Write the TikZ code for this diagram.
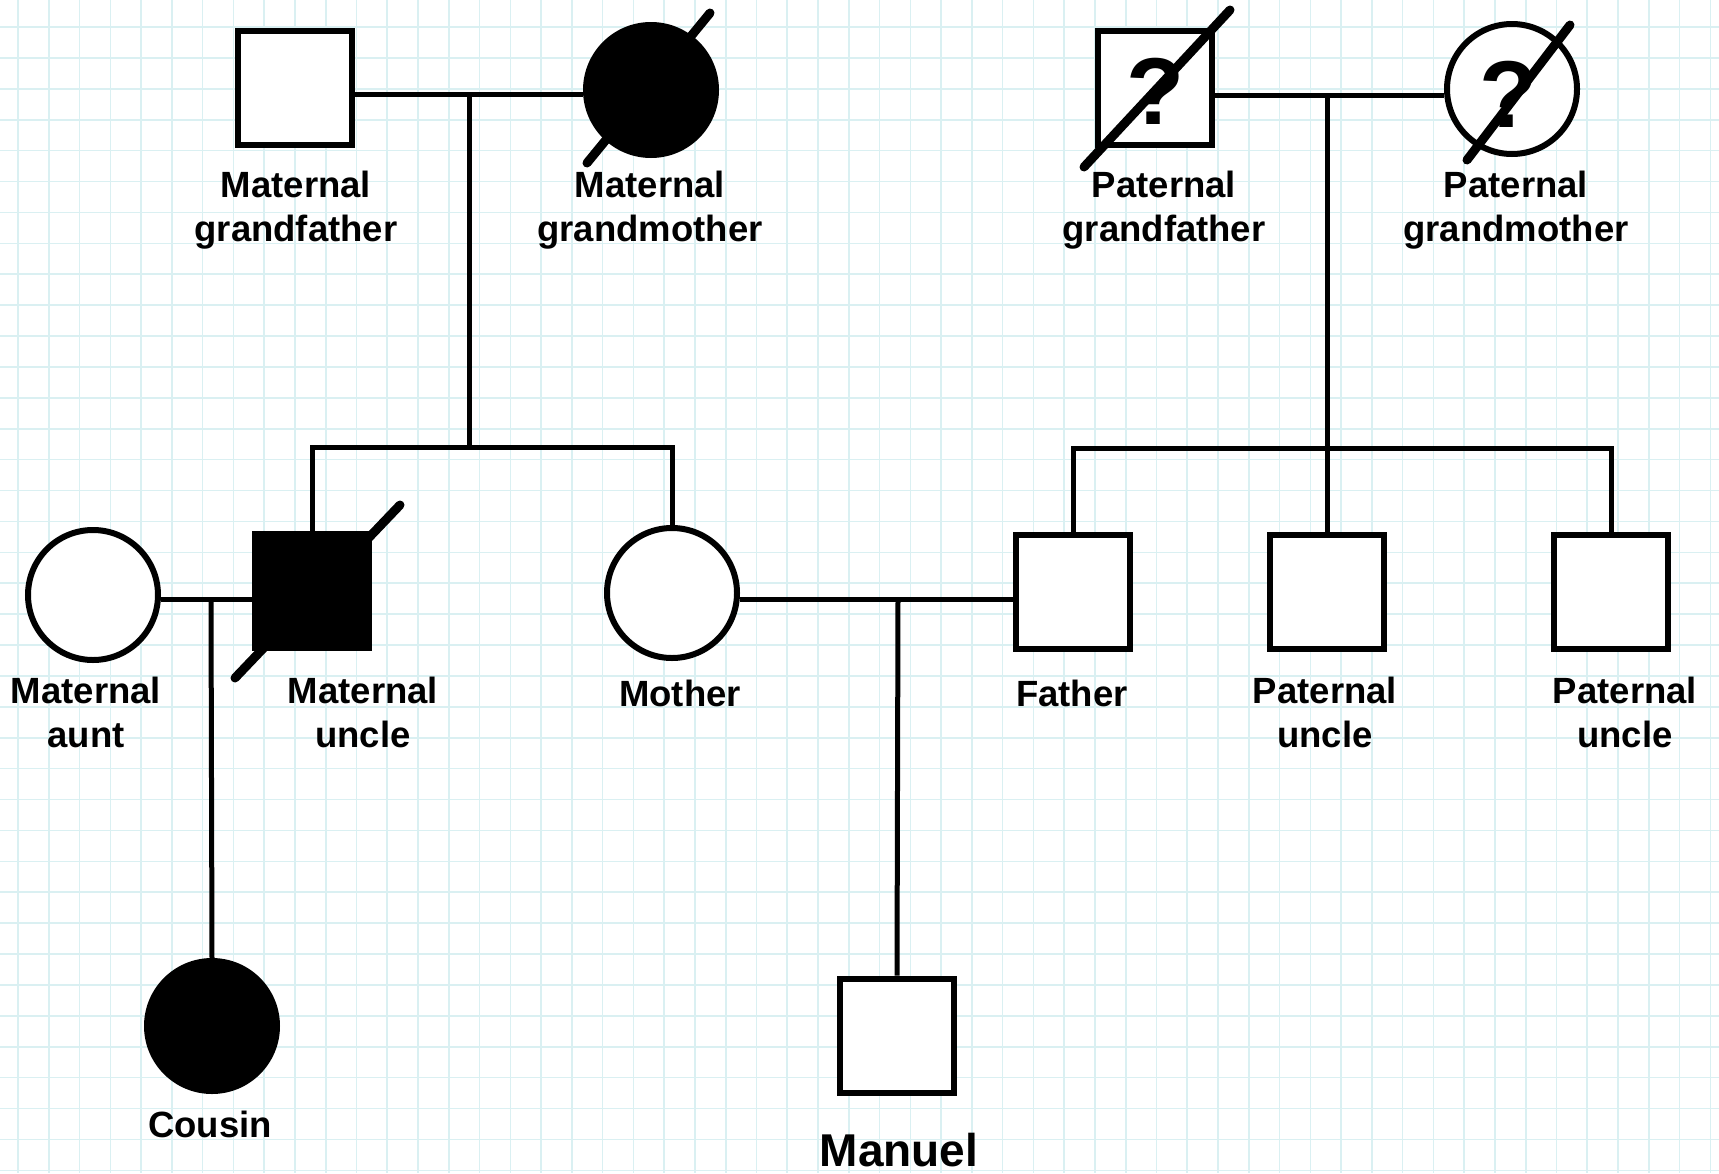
\documentclass[tikz,border=0pt]{standalone}
\usepackage{fontspec}
\setmainfont{Liberation Sans}
\definecolor{gridc}{RGB}{218,240,242}
\begin{document}
\begin{tikzpicture}[x=1pt,y=-1pt,
  male/.style={rectangle, draw, line width=6pt, minimum size=114pt, inner sep=0pt, fill=white},
  female/.style={circle, draw, line width=6pt, minimum size=130pt, inner sep=0pt, fill=white},
  affected/.style={fill=black},
  link/.style={line width=5pt},
  deadmark/.style={line width=9pt, line cap=round},
  lbl/.style={font=\fontsize{36.5}{44}\selectfont\bfseries, align=center, inner sep=0pt, anchor=base},
  qmark/.style={font=\fontsize{95}{95}\selectfont\bfseries, inner sep=0pt},
  gridline/.style={draw=gridc, line width=1.6pt}]
\useasboundingbox (0,0) rectangle (1719,1173);
\fill[white] (0,0) rectangle (1719,1173);
% background grid
\foreach \i in {0,...,55} {\draw[gridline] ({18+30.77*\i},0) -- ({18+30.77*\i},1173);}
\foreach \j in {0,...,37} {\draw[gridline] (0,{27+30.9*\j}) -- (1719,{27+30.9*\j});}

% junction coordinates
\coordinate (mm) at (469,94);
\coordinate (ms) at (469,447);
\coordinate (pm) at (1327,95);
\coordinate (ps) at (1327,448);
\coordinate (am) at (211,599);
\coordinate (fm) at (898,599);

% individuals
\node[male] (mgf) at (295,88) {};
\node[female, affected] (mgm) at (651,90) {};
\node[male] (pgf) at (1155,88) {};
\node[female] (pgm) at (1512,89) {};
\node[female] (aunt) at (93,595) {};
\node[male, affected] (muncle) at (312,591) {};
\node[female] (mother) at (672,593) {};
\node[male] (father) at (1073,592) {};
\node[male] (pu1) at (1327,591.5) {};
\node[male] (pu2) at (1611,591.5) {};
\node[female, affected] (cousin) at (212,1026) {};
\node[male] (manuel) at (897,1035.5) {};

% question marks
\node[qmark] (q1) at (1156,91) {?};
\node[qmark] (q2) at (1508,94) {?};

% connectors
\draw[link] (mgf.east |- mm) -- (mgm.west |- mm);
\draw[link] (mm) -- (ms);
\draw[link] (muncle.north) |- (ms) -| (mother.north);
\draw[link] (pgf.east |- pm) -- (pgm.west |- pm);
\draw[link] (pm) -- (pu1.north);
\draw[link] (father.north) |- (ps) -| (pu2.north);
\draw[link] (aunt.east |- am) -- (muncle.west |- am);
\draw[link] (am) -- (cousin.north);
\draw[link] (mother.east |- fm) -- (father.west |- fm);
\draw[link] (fm) -- (manuel.north);

% deceased marks
\draw[deadmark] (587,163) -- (710,13);
\draw[deadmark] (1084,167) -- (1230,10);
\draw[deadmark] (1467,160) -- (1570,25);
\draw[deadmark] (235,678) -- (400,505);

% labels (anchor=base is the baseline of the last line)
\node[lbl] (l1) at (296,241) {Maternal\\grandfather};
\node[lbl] (l2) at (650,241) {Maternal\\grandmother};
\node[lbl] (l3) at (1164,241) {Paternal\\grandfather};
\node[lbl] (l4) at (1516,241) {Paternal\\grandmother};
\node[lbl] (l5) at (86,747) {Maternal\\aunt};
\node[lbl] (l6) at (363,747) {Maternal\\uncle};
\node[lbl] (l7) at (680,706) {Mother};
\node[lbl] (l8) at (1072,706) {Father};
\node[lbl] (l9) at (1325,747) {Paternal\\uncle};
\node[lbl] (l10) at (1625,747) {Paternal\\uncle};
\node[lbl] (l11) at (210,1137) {Cousin};
\node[lbl, font=\fontsize{46}{50}\selectfont\bfseries] (l12) at (899,1166) {Manuel};
\end{tikzpicture}
\end{document}
